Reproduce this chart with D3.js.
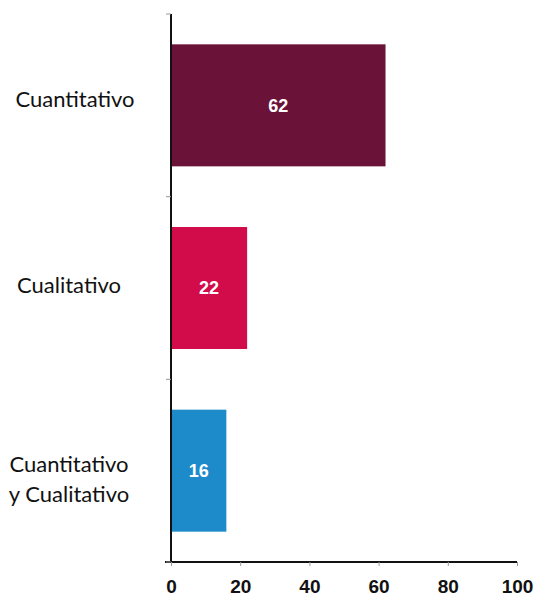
<!DOCTYPE html>
<html>
<head>
<meta charset="utf-8">
<script src="https://cdn.jsdelivr.net/npm/d3@7"></script>
<style>
  html, body { margin: 0; padding: 0; background: #fff; }
  svg { display: block; }
</style>
</head>
<body>
<svg id="chart" width="537" height="597"></svg>
<script>
// Study type counts
const categories = ["Cuantitativo", "Cualitativo", "Cuantitativo\ny Cualitativo"];
const values = [62, 22, 16];
const barColors = ["#6b1239", "#d20b4b", "#1d8bca"];
const xTicks = [0, 20, 40, 60, 80, 100];

const svg = d3.select("#chart");

const x = d3.scaleLinear().domain([0, 100]).range([171, 517]);
const y = d3.scaleBand().domain(categories).range([14, 562])
  .paddingInner(0.332).paddingOuter(0.166);

// Bars
svg.append("g").selectAll("rect")
  .data(categories)
  .join("rect")
  .attr("x", x(0))
  .attr("y", d => y(d))
  .attr("width", (d, i) => x(values[i]) - x(0))
  .attr("height", y.bandwidth())
  .attr("fill", (d, i) => barColors[i]);

// Value labels inside bars
svg.append("g").selectAll("text")
  .data(categories)
  .join("text")
  .attr("x", (d, i) => (x(0) + x(values[i])) / 2)
  .attr("y", d => y(d) + y.bandwidth() / 2)
  .attr("dy", "0.36em")
  .attr("text-anchor", "middle")
  .attr("font-family", "Liberation Sans, Arial, sans-serif")
  .attr("font-weight", "bold")
  .attr("font-size", 18)
  .attr("fill", "#fff")
  .text((d, i) => values[i]);

// X axis
const xAxis = svg.append("g")
  .attr("transform", `translate(0,${y.range()[1]})`)
  .call(d3.axisBottom(x).tickValues(xTicks).tickSize(4).tickSizeOuter(0).tickPadding(14));
xAxis.select(".domain").attr("stroke", "#111").attr("stroke-width", 2)
  .attr("d", `M${x(0) - 6},0H${x(100)}`);
xAxis.selectAll(".tick line").attr("stroke", "#999");
xAxis.selectAll(".tick text")
  .attr("font-family", "Liberation Sans, Arial, sans-serif")
  .attr("font-weight", "bold")
  .attr("font-size", 19)
  .attr("fill", "#111");

// Y axis line with separators between categories
const yAxisG = svg.append("g");
yAxisG.append("line")
  .attr("x1", x(0)).attr("x2", x(0))
  .attr("y1", y.range()[0]).attr("y2", y.range()[1])
  .attr("stroke", "#111").attr("stroke-width", 2);
const seps = d3.range(categories.length + 1).map(i => y.range()[0] + i * y.step());
yAxisG.selectAll("line.sep")
  .data(seps)
  .join("line")
  .attr("class", "sep")
  .attr("x1", x(0) - 5).attr("x2", x(0))
  .attr("y1", d => d).attr("y2", d => d)
  .attr("stroke", "#999").attr("stroke-width", 1);

// Category labels (small per-label nudges for the left column)
const labelNudgeY = [-6, -3, 9];
const labelNudgeX = [4, -2, -2];
const labels = svg.append("g").selectAll("text")
  .data(categories)
  .join("text")
  .attr("text-anchor", "middle")
  .attr("font-family", "Lato, Open Sans, sans-serif")
  .attr("font-size", 22)
  .attr("fill", "#111");
labels.each(function(d, i) {
  const lines = d.split("\n");
  const cy = y(d) + y.bandwidth() / 2 + labelNudgeY[i];
  const lh = 30;
  const t = d3.select(this);
  lines.forEach((ln, k) => {
    t.append("tspan")
      .attr("x", 71 + labelNudgeX[i])
      .attr("y", cy + (k - (lines.length - 1) / 2) * lh)
      .attr("dy", "0.35em")
      .text(ln);
  });
});
</script>
</body>
</html>
